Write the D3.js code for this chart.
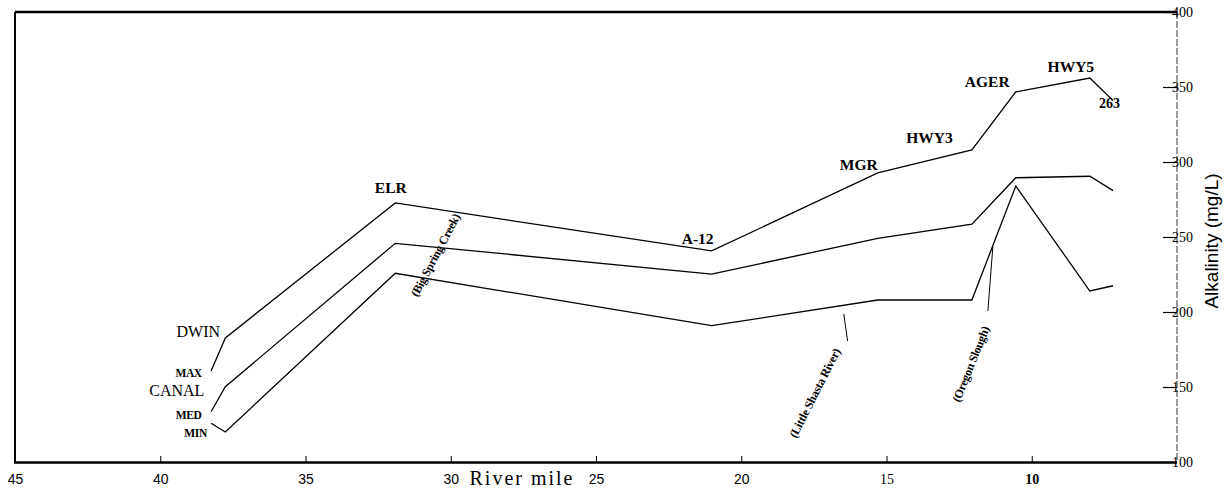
<!DOCTYPE html>
<html>
<head>
<meta charset="utf-8">
<script src="https://cdn.jsdelivr.net/npm/d3@7"></script>
<style>
  html, body { margin: 0; padding: 0; background: #fff; }
  svg { display: block; }
</style>
</head>
<body>
<svg id="chart" width="1230" height="491"></svg>
<script>
// ---------------- DATA ----------------
const stations   = ["DWIN", "ELR", "A-12", "MGR", "HWY3", "AGER", "HWY5", "263"];
const riverMile  = [37.76, 31.91, 21.02, 15.30, 12.06, 10.55, 8.0, 7.20];
const maxValues  = [182.7, 272.7, 240.7, 292.7, 308.0, 346.7, 356.0, 340.9];
const medValues  = [150.2, 245.8, 225.3, 249.1, 258.5, 289.5, 290.5, 280.9];
const minValues  = [120.0, 225.8, 190.9, 208.0, 208.0, 284.0, 214.0, 217.5];
const seriesNames = ["MAX", "MED", "MIN"];
const leaderMile  = 38.25;
const leaderValues = [160.7, 133.5, 125.8];
const tributaries = ["(Big Spring Creek)", "(Little Shasta River)", "(Oregon Slough)"];
const tributaryMile = [30.53, 17.47, 12.10];
const tributaryValue = [238.0, 146.0, 165.3];
const tribLeaderMiles = [[16.47, 16.34], [11.51, 11.34]];
const tribLeaderValues = [[198.7, 180.7], [200.7, 243.3]];
const xTicks = [45, 40, 35, 30, 25, 20, 15, 10];
const yTicks = [400, 350, 300, 250, 200, 150, 100];
const xTitle = "River mile";
const yTitle = "Alkalinity (mg/L)";

// ---------------- LAYOUT ----------------
const svg = d3.select("#chart");
const x = d3.scaleLinear().domain([45, 5]).range([15, 1177]);
const y = d3.scaleLinear().domain([100, 400]).range([462, 12]);
const serif = "'Liberation Serif', 'Times New Roman', serif";
const sans = "'Liberation Sans', Arial, sans-serif";

// frame
svg.append("line").attr("x1", 15).attr("x2", 1177).attr("y1", y(400)).attr("y2", y(400))
  .attr("stroke", "#000").attr("stroke-width", 2.5);
svg.append("line").attr("x1", 15).attr("x2", 15).attr("y1", y(400)).attr("y2", y(100))
  .attr("stroke", "#000").attr("stroke-width", 2);
svg.append("line").attr("x1", 14).attr("x2", 1177).attr("y1", y(100) + 0.5).attr("y2", y(100) + 0.5)
  .attr("stroke", "#000").attr("stroke-width", 2.5);
svg.append("line").attr("x1", 1177).attr("x2", 1177).attr("y1", y(400)).attr("y2", y(100))
  .attr("stroke", "#333").attr("stroke-width", 1).attr("stroke-dasharray", "7,2");

// bottom axis
const xAxis = svg.append("g").attr("transform", `translate(0,${y(100)})`)
  .call(d3.axisBottom(x).tickValues(xTicks).tickSize(-6).tickPadding(12).tickFormat(d3.format("d")));
xAxis.select(".domain").remove();
xAxis.selectAll(".tick line").attr("stroke", "#000").attr("stroke-width", 1);
xAxis.selectAll(".tick text")
  .attr("fill", "#000")
  .style("font-family", d => d <= 15 ? serif : sans)
  .style("font-weight", d => d === 10 ? "bold" : "normal")
  .style("font-size", "14px");

// right axis
const yAxis = svg.append("g").attr("transform", `translate(1177,0)`)
  .call(d3.axisRight(y).tickValues(yTicks).tickSize(-14).tickPadding(-5));
yAxis.select(".domain").remove();
yAxis.selectAll(".tick line").attr("stroke", "#000").attr("stroke-width", 1.2);
yAxis.selectAll(".tick text")
  .attr("fill", "#000")
  .attr("x", -5)
  .style("font-family", serif).style("font-size", "14px");

// axis titles
svg.append("text").attr("x", 522).attr("y", 485).attr("text-anchor", "middle")
  .style("font-family", serif).style("font-size", "20px").style("letter-spacing", "2px")
  .text(xTitle);
svg.append("text").attr("transform", "translate(1218,241) rotate(-90)").attr("text-anchor", "middle")
  .style("font-family", sans).style("font-size", "19px").text(yTitle);

// series lines
const line = d3.line().x(d => x(d[0])).y(d => y(d[1]));
const seriesValues = [maxValues, medValues, minValues];
seriesValues.forEach((vals, i) => {
  const pts = [[leaderMile, leaderValues[i]]].concat(riverMile.map((m, j) => [m, vals[j]]));
  svg.append("path").datum(pts).attr("d", line)
    .attr("fill", "none").attr("stroke", "#000").attr("stroke-width", 1.3)
    .attr("stroke-linejoin", "miter");
});

// station labels (placed relative to MAX points)
const stationOffsets = [[-27, -1], [-4.5, -10], [-14, -7], [-19, -3], [-42.5, -7], [-28.5, -5], [-19, -6], [-3.5, 7.5]];
stations.forEach((s, i) => {
  svg.append("text")
    .attr("x", x(riverMile[i]) + stationOffsets[i][0])
    .attr("y", y(maxValues[i]) + stationOffsets[i][1])
    .attr("text-anchor", "middle")
    .style("font-family", serif)
    .style("font-size", i === 0 ? "16px" : (i === 7 ? "14px" : "15.5px"))
    .style("font-weight", i === 0 ? "normal" : "bold")
    .text(s);
});
// CANAL label (second station name, below DWIN)
svg.append("text").attr("x", x(riverMile[0]) - 48.5).attr("y", y(medValues[0]) + 9)
  .attr("text-anchor", "middle").style("font-family", serif).style("font-size", "16px").text("CANAL");

// series labels at leader ends
const seriesLabelOffsets = [[-22.5, 6], [-22.5, 7], [-15.5, 14]];
seriesNames.forEach((n, i) => {
  svg.append("text")
    .attr("x", x(leaderMile) + seriesLabelOffsets[i][0])
    .attr("y", y(leaderValues[i]) + seriesLabelOffsets[i][1])
    .attr("text-anchor", "middle")
    .style("font-family", serif).style("font-size", "11.5px").style("font-weight", "bold")
    .style("letter-spacing", "-0.4px")
    .text(n);
});

// tributary annotations
const tribAngles = [-62, -63, -68];
tributaries.forEach((t, i) => {
  svg.append("text")
    .attr("transform", `translate(${x(tributaryMile[i])},${y(tributaryValue[i])}) rotate(${tribAngles[i]})`)
    .attr("text-anchor", "middle").attr("dy", "0.35em")
    .style("font-family", serif).style("font-size", "12px").style("font-weight", "bold")
    .style("letter-spacing", "-0.3px")
    .text(t);
});
tribLeaderMiles.forEach((ms, i) => {
  svg.append("line")
    .attr("x1", x(ms[0])).attr("y1", y(tribLeaderValues[i][0]))
    .attr("x2", x(ms[1])).attr("y2", y(tribLeaderValues[i][1]))
    .attr("stroke", "#000").attr("stroke-width", 1);
});
</script>
</body>
</html>
